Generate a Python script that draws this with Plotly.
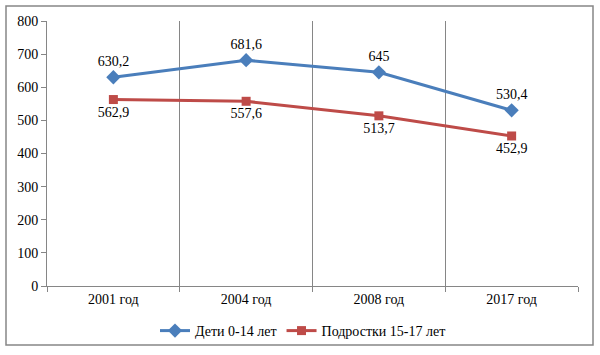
import plotly.graph_objects as go

categories = ["2001 год", "2004 год", "2008 год", "2017 год"]
children = [630.2, 681.6, 645, 530.4]
teens = [562.9, 557.6, 513.7, 452.9]
series_names = ["Дети 0-14 лет", "Подростки 15-17 лет"]

def fmt(v):
    s = ("%g" % v)
    return s.replace(".", ",")

FONT = "Times New Roman"
fig = go.Figure()
fig.add_trace(go.Scatter(
    x=categories, y=children, name=series_names[0], mode="lines+markers+text",
    line=dict(color="#4a7ebb", width=3),
    marker=dict(symbol="diamond", size=11, color="#4a7ebb"),
    text=[fmt(v) for v in children], textposition="top center",
    textfont=dict(family=FONT, size=14, color="black"),
))
fig.add_trace(go.Scatter(
    x=categories, y=teens, name=series_names[1], mode="lines+markers+text",
    line=dict(color="#be4b48", width=3),
    marker=dict(symbol="square", size=9, color="#be4b48"),
    text=[fmt(v) for v in teens], textposition="bottom center",
    textfont=dict(family=FONT, size=14, color="black"),
))

L, R, T, B = 47, 22, 21, 69
W, H = 600, 355
pw, ph = W - L - R, H - T - B

fig.update_layout(
    width=W, height=H, margin=dict(l=L, r=R, t=T, b=B, autoexpand=False),
    paper_bgcolor="white", plot_bgcolor="white",
    font=dict(family=FONT, size=14, color="black"),
    showlegend=True,
    legend=dict(orientation="h", x=(303 - L) / pw, xanchor="center",
                y=(286 - 331) / ph, yanchor="middle", bgcolor="rgba(0,0,0,0)",
                font=dict(family=FONT, size=14)),
    xaxis=dict(range=[-0.5, 3.5], tickson="boundaries", showgrid=True,
               gridcolor="#868686", gridwidth=1, showline=True, linecolor="#868686",
               ticks="outside", ticklen=5, tickcolor="#868686", mirror=False,
               zeroline=False),
    yaxis=dict(range=[0, 800], dtick=100, showgrid=False, showline=True,
               linecolor="#868686", ticks="outside", ticklen=5, tickcolor="#868686",
               zeroline=False),
    shapes=[dict(type="rect", xref="paper", yref="paper",
                 x0=(6 - L) / pw, x1=(593 - L) / pw,
                 y0=(286 - 345) / ph, y1=(286 - 6) / ph,
                 line=dict(color="#868686", width=1.5), layer="above")],
)
fig.write_html("out.html", config={"displayModeBar": False},
               post_script="document.body.style.margin='0';document.body.style.padding='0';")
